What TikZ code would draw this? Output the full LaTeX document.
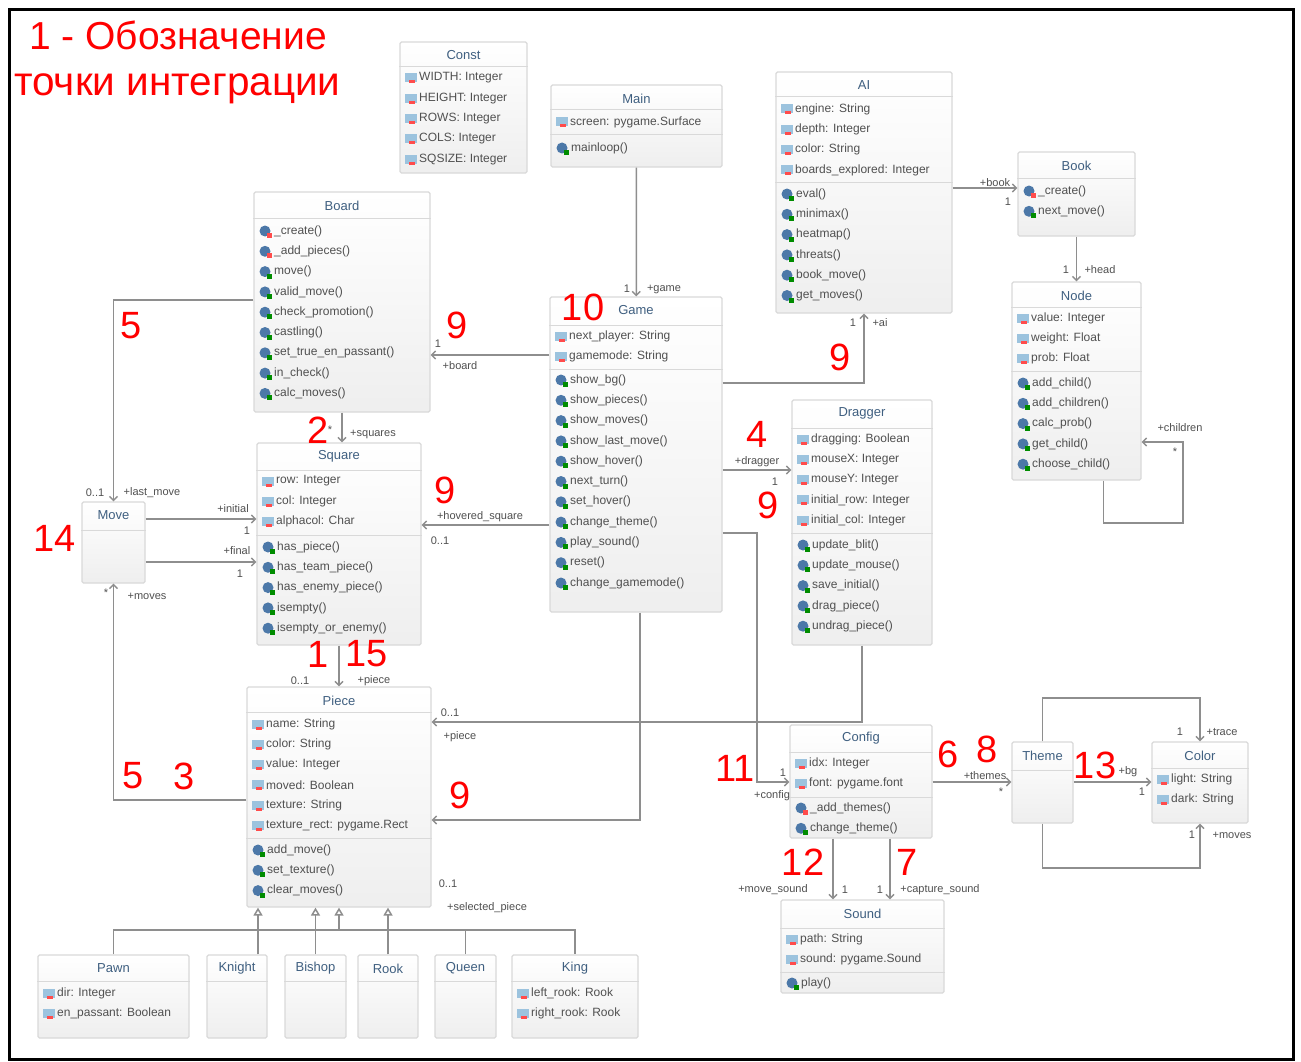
\documentclass[tikz,border=0pt]{standalone}
\usepackage{fontspec}
\setmainfont{Liberation Sans}
\usetikzlibrary{arrows.meta}

\definecolor{hdrblue}{HTML}{3F5F80}
\definecolor{rowtext}{HTML}{505050}
\definecolor{fldblue}{HTML}{9CC3DE}
\definecolor{methblue}{HTML}{4C78A8}
\definecolor{linegray}{HTML}{8E8E8E}

\tikzset{
  classbox/.style={draw=gray!30, line width=1.2pt, top color=white, bottom color=gray!13, rounded corners=1.5pt, inner sep=0pt},
  hdr/.style={text=hdrblue, font=\fontsize{13}{14}\selectfont},
  rowtxt/.style={anchor=west, text=rowtext, font=\fontsize{12}{13}\selectfont, inner sep=0pt},
  sepline/.style={draw=gray!30, line width=1pt},
  assoc/.style={draw=linegray, line width=1.5pt, -{Straight Barb[length=4pt,width=8pt]}},
  genline/.style={draw=linegray, line width=1.5pt},
  gen/.style={genline, -{Triangle[open,length=8pt,width=9pt,fill=white]}},
  lbl/.style={text=rowtext, font=\fontsize{11}{12}\selectfont, inner sep=0pt},
  num/.style={text=red, font=\fontsize{38}{38}\selectfont, inner sep=0pt},
}

\newcommand{\umlclass}[6]{%
  \node[classbox, minimum width=#5pt, minimum height=#6pt] (#1) at (#3+#5/2,#4+#6/2) {};
  \node[hdr] (#1-title) at (#3+#5/2,#4+13.5) {#2};}
\newcommand{\umlsep}[2]{\draw[sepline] (#1.west |- 0,#2) -- (#1.east |- 0,#2);}
\newcommand{\umlfields}[4]{%
  \foreach \entry [count=\i] in {#4} {
    \pgfmathsetmacro\ry{#3+20.3*(\i-1)}
    \fill[fldblue] (#2,\ry-4.5) rectangle ++(12,9);
    \fill[red!70] (#2+4,\ry+2.5) rectangle ++(6,3);
    \node[rowtxt] (#1-f\i) at (#2+14,\ry) {\entry};
  }}
\newcommand{\umlmethods}[5][0]{%
  \foreach \entry [count=\i] in {#5} {
    \pgfmathsetmacro\ry{#4+20.3*(\i-1)}
    \ifnum\i>#1 \def\mk{green!55!black}\else\def\mk{red!70}\fi
    \fill[methblue] (#3+6,\ry) circle (5.5);
    \fill[\mk] (#3+8,\ry+2) rectangle ++(5,5);
    \node[rowtxt] (#2-m\i) at (#3+15,\ry) {\entry};
  }}
\newcommand{\lbl}[4]{\node[lbl] (#1) at (#2,#3) {#4};}

\begin{document}
\begin{tikzpicture}[x=1pt, y=-1pt]
\useasboundingbox[fill=white] (0,0) rectangle (1301,1062);
\draw[line width=3pt] (9,10) rectangle (1293,1059);

\node[num, font=\fontsize{39}{39}\selectfont, anchor=base west] (title1) at (29,50) {1 - Обозначение};
\node[num, font=\fontsize{40.5}{40}\selectfont, anchor=base west] (title2) at (14,96) {точки интеграции};

\umlclass{const}{Const}{400}{42}{127}{131}
\umlsep{const}{67}
\umlfields{const}{405}{78}{WIDTH: Integer, HEIGHT: Integer, ROWS: Integer, COLS: Integer, SQSIZE: Integer}

\umlclass{main}{Main}{551}{85}{171}{82}
\umlsep{main}{110} \umlsep{main}{135}
\umlfields{main}{556}{122}{screen: pygame.Surface}
\umlmethods{main}{556}{148}{mainloop()}

\umlclass{ai}{AI}{776}{72}{176}{241}
\umlsep{ai}{97} \umlsep{ai}{182}
\umlfields{ai}{781}{109}{engine: String, depth: Integer, color: String, boards\_explored: Integer}
\umlmethods{ai}{781}{194}{eval(), minimax(), heatmap(), threats(), book\_move(), get\_moves()}

\umlclass{book}{Book}{1018}{152}{117}{84}
\umlsep{book}{178}
\umlmethods[1]{book}{1023}{191}{\_create(), next\_move()}

\umlclass{node}{Node}{1012}{282}{129}{198}
\umlsep{node}{307} \umlsep{node}{371}
\umlfields{node}{1017}{318}{value: Integer, weight: Float, prob: Float}
\umlmethods{node}{1017}{383}{add\_child(), add\_children(), calc\_prob(), get\_child(), choose\_child()}

\umlclass{board}{Board}{254}{192}{176}{220}
\umlsep{board}{218}
\umlmethods[2]{board}{259}{231}{\_create(), \_add\_pieces(), move(), valid\_move(), check\_promotion(), castling(), set\_true\_en\_passant(), in\_check(), calc\_moves()}

\umlclass{square}{Square}{257}{443}{164}{202}
\umlsep{square}{470} \umlsep{square}{535}
\umlfields{square}{262}{481}{row: Integer, col: Integer, alphacol: Char}
\umlmethods{square}{262}{547}{has\_piece(), has\_team\_piece(), has\_enemy\_piece(), isempty(), isempty\_or\_enemy()}

\umlclass{move}{Move}{82}{502}{63}{81}
\umlsep{move}{530}

\umlclass{game}{Game}{550}{297}{172}{315}
\umlsep{game}{325} \umlsep{game}{369}
\umlfields{game}{555}{336}{next\_player: String, gamemode: String}
\umlmethods{game}{555}{380}{show\_bg(), show\_pieces(), show\_moves(), show\_last\_move(), show\_hover(), next\_turn(), set\_hover(), change\_theme(), play\_sound(), reset(), change\_gamemode()}

\umlclass{dragger}{Dragger}{792}{400}{140}{245}
\umlsep{dragger}{428} \umlsep{dragger}{533}
\umlfields{dragger}{797}{439}{dragging: Boolean, mouseX: Integer, mouseY: Integer, initial\_row: Integer, initial\_col: Integer}
\umlmethods{dragger}{797}{545}{update\_blit(), update\_mouse(), save\_initial(), drag\_piece(), undrag\_piece()}

\umlclass{piece}{Piece}{247}{687}{184}{220}
\umlsep{piece}{712} \umlsep{piece}{838}
\umlfields{piece}{252}{724}{name: String, color: String, value: Integer, moved: Boolean, texture: String, texture\_rect: pygame.Rect}
\umlmethods{piece}{252}{850}{add\_move(), set\_texture(), clear\_moves()}

\umlclass{pawn}{Pawn}{38}{955}{151}{83}
\umlsep{pawn}{981}
\umlfields{pawn}{43}{993}{dir: Integer, en\_passant: Boolean}
\umlclass{knight}{Knight}{207}{955}{60}{83}
\umlsep{knight}{981}
\umlclass{bishop}{Bishop}{285}{955}{61}{83}
\umlsep{bishop}{981}
\umlclass{rook}{Rook}{358}{955}{60}{83}
\umlsep{rook}{981}
\umlclass{queen}{Queen}{435}{955}{61}{83}
\umlsep{queen}{981}
\umlclass{king}{King}{512}{955}{126}{83}
\umlsep{king}{981}
\umlfields{king}{517}{993}{left\_rook: Rook, right\_rook: Rook}

\umlclass{config}{Config}{790}{725}{142}{113}
\umlsep{config}{752} \umlsep{config}{797}
\umlfields{config}{795}{763}{idx: Integer, font: pygame.font}
\umlmethods[1]{config}{795}{808}{\_add\_themes(), change\_theme()}

\umlclass{sound}{Sound}{781}{900}{163}{93}
\umlsep{sound}{928} \umlsep{sound}{972}
\umlfields{sound}{786}{939}{path: String, sound: pygame.Sound}
\umlmethods{sound}{786}{983}{play()}

\umlclass{theme}{Theme}{1012}{742}{61}{81}
\umlsep{theme}{770}
\umlclass{color}{Color}{1152}{742}{96}{81}
\umlsep{color}{768}
\umlfields{color}{1157}{779}{light: String, dark: String}

\draw[assoc] (main) -- (game);
\draw[assoc] (game.west |- 0,355) -- (board.east |- 0,355);
\draw[assoc] (board.south) -- (board.south |- square.north);
\draw[assoc] (game.west |- 0,525) -- (square.east |- 0,525);
\draw[assoc] (board.west |- 0,300) -| (move.north);
\draw[assoc] (move.east |- 0,519) -- (square.west |- 0,519);
\draw[assoc] (move.east |- 0,562) -- (square.west |- 0,562);
\draw[assoc] (piece.west |- 0,800) -| (move.south);
\draw[assoc] (square.south) -- (square.south |- piece.north);
\draw[assoc] (game.east |- 0,383) -| (ai.south);
\draw[assoc] (ai.east |- 0,188) -- (book.west |- 0,188);
\draw[assoc] (book.south) -- (book.south |- node.north);
\draw[assoc] ([xshift=27pt]node.south) |- (1183,523) |- (node.east |- 0,442);
\draw[assoc] (game.east |- 0,470) -- (dragger.west |- 0,470);
\draw[assoc] (game.east |- 0,533) -| (757,782) -- (config.west |- 0,782);
\draw[assoc] (dragger.south) |- (piece.east |- 0,722);
\draw[assoc] ([xshift=4pt]game.south) |- (piece.east |- 0,820);
\draw[assoc] (config.east |- 0,782) -- (theme.west |- 0,782);
\draw[assoc] (theme.east |- 0,782) -- (color.west |- 0,782);
\draw[assoc] (theme.north) -- (theme.north |- 0,698) -| (color.north);
\draw[assoc] (theme.south) -- (theme.south |- 0,868) -| (color.south);
\draw[assoc] ([xshift=-28pt]config.south) -- ([xshift=-28pt]config.south |- sound.north);
\draw[assoc] ([xshift=29pt]config.south) -- ([xshift=29pt]config.south |- sound.north);

\draw[genline] (pawn.north) |- (king.north |- 0,930) -- (king.north);
\draw[genline] (queen.north) -- (queen.north |- 0,930);
\draw[gen] (piece.south |- 0,930) -- (piece.south);
\draw[gen] ([xshift=21pt]knight.north) -- ([xshift=21pt]knight.north |- piece.south);
\draw[gen] (bishop.north) -- (bishop.north |- piece.south);
\draw[gen] (rook.north) -- (rook.north |- piece.south);

\lbl{l1}{627}{289}{1} \lbl{l2}{664}{289}{+game}
\lbl{l3}{438}{344}{1} \lbl{l4}{460}{366}{+board}
\lbl{l5}{330}{430}{*} \lbl{l6}{373}{434}{+squares}
\lbl{l7}{480}{517}{+hovered\_square} \lbl{l8}{440}{541}{0..1}
\lbl{l9}{95}{493}{0..1} \lbl{l10}{152}{493}{+last\_move}
\lbl{l11}{233}{509}{+initial} \lbl{l12}{247}{531}{1}
\lbl{l13}{237}{551}{+final} \lbl{l14}{240}{574}{1}
\lbl{l15}{106}{593}{*} \lbl{l16}{147}{596}{+moves}
\lbl{l17}{300}{681}{0..1} \lbl{l18}{374}{681}{+piece}
\lbl{l19}{853}{323}{1} \lbl{l20}{880}{323}{+ai}
\lbl{l21}{995}{183}{+book} \lbl{l22}{1008}{202}{1}
\lbl{l23}{1066}{270}{1} \lbl{l24}{1100}{270}{+head}
\lbl{l25}{1180}{428}{+children} \lbl{l26}{1175}{452}{*}
\lbl{l27}{757}{462}{+dragger} \lbl{l28}{775}{482}{1}
\lbl{l29}{783}{773}{1} \lbl{l30}{772}{796}{+config}
\lbl{l31}{450}{713}{0..1} \lbl{l32}{460}{737}{+piece}
\lbl{l33}{448}{884}{0..1} \lbl{l34}{487}{908}{+selected\_piece}
\lbl{l35}{985}{776}{+themes} \lbl{l36}{1001}{792}{*}
\lbl{l37}{1128}{772}{+bg} \lbl{l38}{1142}{792}{1}
\lbl{l39}{1180}{732}{1} \lbl{l40}{1222}{732}{+trace}
\lbl{l41}{1192}{835}{1} \lbl{l42}{1232}{835}{+moves}
\lbl{l43}{773}{890}{+move\_sound} \lbl{l44}{845}{890}{1}
\lbl{l45}{880}{890}{1} \lbl{l46}{940}{890}{+capture\_sound}

\node[num] (n5a) at (131,326) {5};
\node[num] (n9a) at (457,325) {9};
\node[num] (n10) at (583,307) {10};
\node[num] (n9b) at (840,357) {9};
\node[num] (n2) at (318,430) {2};
\node[num] (n4) at (757,434) {4};
\node[num] (n9c) at (445,490) {9};
\node[num] (n9d) at (768,505) {9};
\node[num] (n14) at (55,538) {14};
\node[num] (n1) at (318,654) {1};
\node[num] (n15) at (367,654) {15};
\node[num] (n5b) at (133,776) {5};
\node[num] (n3) at (184,776) {3};
\node[num] (n9e) at (460,795) {9};
\node[num] (n11) at (735,768) {11};
\node[num] (n6) at (948,754) {6};
\node[num] (n8) at (987,749) {8};
\node[num] (n13) at (1095,765) {13};
\node[num] (n12) at (803,862) {12};
\node[num] (n7) at (907,862) {7};
\end{tikzpicture}
\end{document}
